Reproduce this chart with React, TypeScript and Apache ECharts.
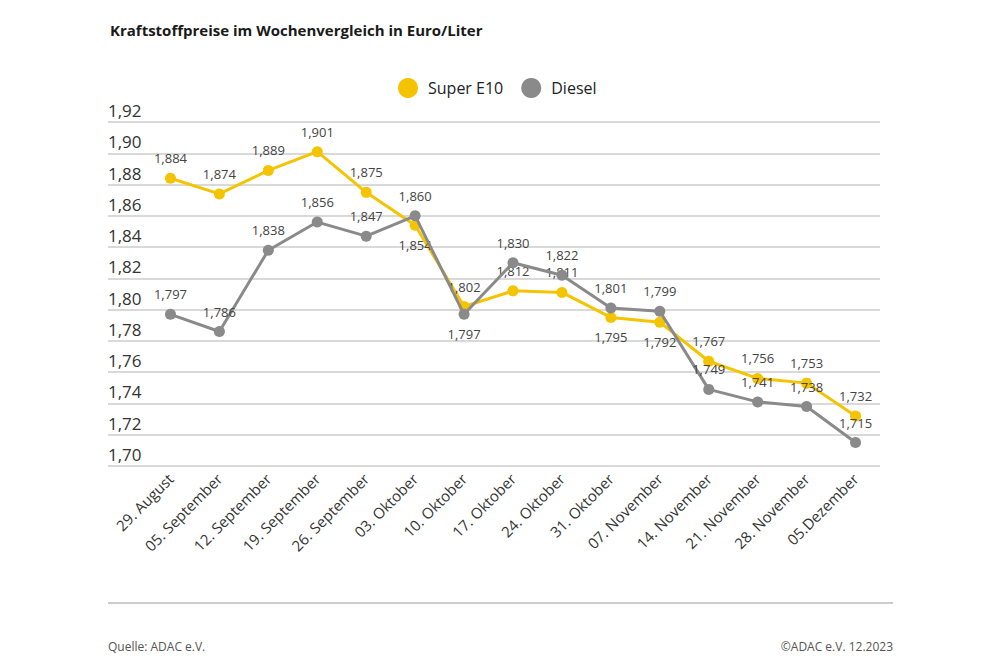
import React, { useEffect, useRef } from "react";
import * as echarts from "echarts";

const categories = [
  "29. August", "05. September", "12. September", "19. September", "26. September",
  "03. Oktober", "10. Oktober", "17. Oktober", "24. Oktober", "31. Oktober",
  "07. November", "14. November", "21. November", "28. November", "05.Dezember",
];
const superE10 = [1.884, 1.874, 1.889, 1.901, 1.875, 1.854, 1.802, 1.812, 1.811, 1.795, 1.792, 1.767, 1.756, 1.753, 1.732];
const diesel = [1.797, 1.786, 1.838, 1.856, 1.847, 1.860, 1.797, 1.830, 1.822, 1.801, 1.799, 1.749, 1.741, 1.738, 1.715];
const e10LabelsBelow = [5, 9, 10];
const dieselLabelsBelow = [6];

const YELLOW = "#F5C400";
const GRAY = "#8A8A8A";
const FONT = "'Open Sans', 'Noto Sans', sans-serif";

const fmt = (v: number) => v.toFixed(3).replace(".", ",");

export default function App() {
  const ref = useRef<HTMLDivElement>(null);
  useEffect(() => {
    if (!ref.current) return;
    const chart = echarts.init(ref.current, undefined, { renderer: "svg" });
    const mk = (vals: number[], below: number[]) =>
      vals.map((v, i) => ({
        value: v,
        label: below.includes(i) ? { position: "bottom", distance: 8 } : undefined,
      }));
    const seriesBase = {
      type: "line",
      xAxisIndex: 0,
      yAxisIndex: 0,
      symbol: "circle",
      symbolSize: 11,
      lineStyle: { width: 3 },
      label: {
        show: true,
        position: "top",
        distance: 8,
        fontSize: 13,
        fontFamily: FONT,
        color: "#444",
        formatter: (p: any) => fmt(p.value),
      },
    };
    chart.setOption({
      animation: false,
      backgroundColor: "#fff",
      title: {
        text: "Kraftstoffpreise im Wochenvergleich in Euro/Liter",
        left: 105,
        top: 17,
        textStyle: { fontFamily: FONT, fontSize: 15, fontWeight: "bold", color: "#1a1a1a" },
      },
      legend: {
        left: 393,
        top: 73,
        icon: "circle",
        itemWidth: 22,
        itemHeight: 20,
        itemGap: 18,
        textStyle: { fontFamily: FONT, fontSize: 16, color: "#222", padding: [0, 0, 0, 4] },
        data: ["Super E10", "Diesel"],
      },
      grid: [
        { left: 146, right: 120, top: 122, bottom: 201 },
        { left: 108, right: 120, top: 122, bottom: 201 },
      ],
      xAxis: [
        {
          type: "category",
          gridIndex: 0,
          data: categories,
          boundaryGap: true,
          axisLine: { show: false },
          axisTick: { show: false },
          axisLabel: {
            rotate: 45,
            margin: 10,
            fontSize: 15,
            fontFamily: FONT,
            color: "#333",
            interval: 0,
          },
        },
        { type: "value", gridIndex: 1, show: false, min: 0, max: 1 },
      ],
      yAxis: [
        {
          type: "value",
          gridIndex: 0,
          min: 1.7,
          max: 1.92,
          interval: 0.02,
          show: false,
          splitLine: { show: false },
        },
        {
          type: "value",
          gridIndex: 1,
          min: 1.7,
          max: 1.92,
          interval: 0.02,
          axisLine: { show: false },
          axisTick: { show: false },
          splitLine: { show: true, lineStyle: { color: "#cccccc", width: 1.5 } },
          axisLabel: {
            inside: true,
            margin: 0,
            verticalAlign: "bottom",
            padding: [0, 0, 3, 0],
            fontSize: 17,
            fontFamily: FONT,
            color: "#333",
            formatter: (v: number) => v.toFixed(2).replace(".", ","),
          },
        },
      ],
      graphic: [
        {
          type: "line",
          shape: { x1: 108, y1: 603, x2: 893, y2: 603 },
          style: { stroke: "#cccccc", lineWidth: 2 },
        },
        {
          type: "text",
          left: 108,
          top: 640,
          style: { text: "Quelle: ADAC e.V.", font: `12px ${FONT}`, fill: "#555" },
        },
        {
          type: "text",
          right: 107,
          top: 640,
          style: { text: "©ADAC e.V. 12.2023", font: `12px ${FONT}`, fill: "#555" },
        },
      ],
      series: [
        {
          ...seriesBase,
          name: "Super E10",
          color: YELLOW,
          itemStyle: { color: YELLOW },
          lineStyle: { width: 3, color: YELLOW },
          data: mk(superE10, e10LabelsBelow),
          z: 2,
        },
        {
          ...seriesBase,
          name: "Diesel",
          color: GRAY,
          itemStyle: { color: GRAY },
          lineStyle: { width: 3, color: GRAY },
          data: mk(diesel, dieselLabelsBelow),
          z: 3,
        },
      ],
    });
    return () => chart.dispose();
  }, []);
  return (
    <div
      ref={ref}
      style={{ position: "fixed", left: 0, top: 0, width: 1000, height: 667, background: "#fff" }}
    />
  );
}
